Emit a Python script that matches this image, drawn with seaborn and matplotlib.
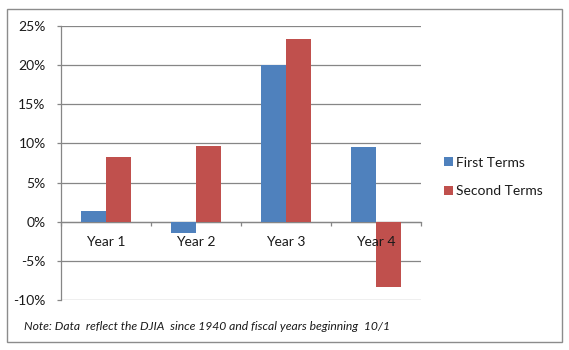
import matplotlib
matplotlib.use("Agg")
import matplotlib.pyplot as plt
from matplotlib.patches import Patch, Rectangle
from matplotlib.ticker import FixedLocator, FuncFormatter
import seaborn as sns
import pandas as pd

# ---- data ----
categories = ["Year 1", "Year 2", "Year 3", "Year 4"]
first_terms = [1.4, -1.5, 20.0, 9.5]
second_terms = [8.3, 9.7, 23.3, -8.4]
series_names = ["First Terms", "Second Terms"]
y_ticks = [-10, -5, 0, 5, 10, 15, 20, 25]
note_text = "Note: Data  reflect the DJIA  since 1940 and fiscal years beginning  10/1"

colors = ["#4F81BD", "#C0504D"]

df = pd.DataFrame({
    "Year": categories * 2,
    "Value": first_terms + second_terms,
    "Series": [series_names[0]] * len(categories) + [series_names[1]] * len(categories),
})

sns.set_theme(style="white")
plt.rcParams["font.family"] = ["Lato", "DejaVu Sans"]

W, H = 569, 350
fig = plt.figure(figsize=(W / 100, H / 100), dpi=100)
fig.patch.set_facecolor("white")

ax = fig.add_axes([61 / W, 1 - 300 / H, (421 - 61) / W, (300 - 26) / H])
sns.barplot(data=df, x="Year", y="Value", hue="Series", palette=colors,
            width=0.556, ax=ax, legend=False, saturation=1, linewidth=0)
for p in ax.patches:
    p.set_zorder(1)

ax.set_ylim(-10, 25)
ax.set_xlim(-0.5, 3.5)
ax.set_xlabel("")
ax.set_ylabel("")

gray = "#868686"
ax.yaxis.set_major_locator(FixedLocator(y_ticks))
ax.yaxis.set_major_formatter(FuncFormatter(lambda v, p: f"{int(v)}%"))
ax.grid(False)
for t in y_ticks:
    ax.axhline(t, color=gray, linewidth=0.9, zorder=0.5)
ax.set_axisbelow(False)
for s in ["top", "right"]:
    ax.spines[s].set_visible(False)
ax.spines["left"].set_color(gray)
ax.spines["left"].set_linewidth(0.9)
ax.spines["bottom"].set_position(("data", 0))
ax.spines["bottom"].set_color(gray)
ax.spines["bottom"].set_linewidth(0.9)
ax.spines["bottom"].set_zorder(0.6)

ax.tick_params(axis="y", which="major", left=True, length=3, width=0.9,
               color=gray, pad=8, labelsize=10, labelcolor="#1a1a1a")
ax.tick_params(axis="x", which="major", bottom=True, length=0, pad=10,
               labelsize=10, labelcolor="#1a1a1a")
ax.xaxis.set_minor_locator(FixedLocator([-0.5, 0.5, 1.5, 2.5, 3.5]))
ax.tick_params(axis="x", which="minor", bottom=True, length=3, width=0.9,
               color=gray, direction="out")
ax.set_xticks(range(len(categories)))
ax.set_xticklabels(categories)

handles = [Patch(facecolor=c, edgecolor="none") for c in colors]
ax.legend(handles, series_names, loc="center left",
          bbox_to_anchor=(444 / W, 1 - 177 / H), bbox_transform=fig.transFigure,
          frameon=False, fontsize=10, handlelength=0.65, handleheight=0.65,
          handletextpad=0.25, labelspacing=1.2, borderpad=0, borderaxespad=0,
          labelcolor="#1a1a1a")

fig.text(24 / W, 1 - 327 / H, note_text, style="italic", fontsize=8.7,
         va="center", ha="left", color="#1a1a1a")

fig.patches.append(Rectangle((7 / W, 1 - 342 / H), (562 - 7) / W, (342 - 9) / H,
                             transform=fig.transFigure, fill=False,
                             edgecolor="#8c8c8c", linewidth=1))

fig.savefig("out.png", dpi=100)
